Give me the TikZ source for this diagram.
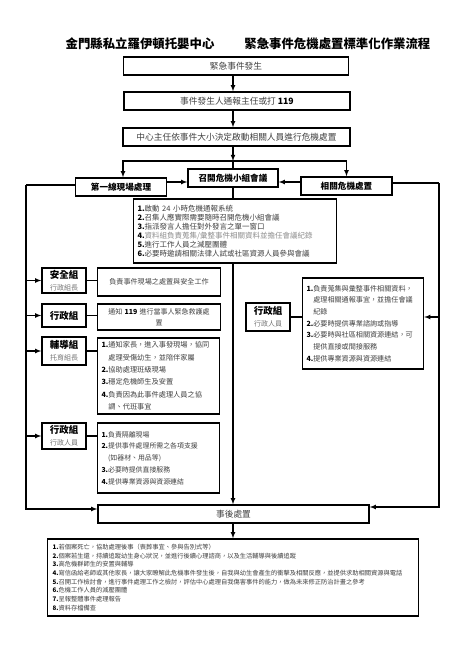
\documentclass[tikz,border=0pt]{standalone}
\usepackage{fontspec}
\setmainfont{Noto Sans CJK TC}
\tikzset{
box/.style={rectangle,draw,line width=1.4pt,inner sep=0pt,text=black!75,font=\fontsize{8.7}{10}\selectfont,minimum height=18pt},
headbox/.style={box,text=black,font=\bfseries\fontsize{8.6}{10}\selectfont},
groupbox/.style={rectangle,draw,line width=1.4pt,inner xsep=1pt,inner ysep=1.5pt,align=center,minimum width=44pt},
infobox/.style={rectangle,draw,line width=1.4pt,inner xsep=4pt,inner ysep=1pt,align=left,text=black!75},
link/.style={line width=1.1pt},
flow/.style={->,>=latex,line width=1.1pt,shorten >=0pt},
}
\newcommand\itemno[1]{{\color{black}\bfseries #1.}}
\newcommand\grouplabel[2]{{\bfseries\fontsize{9.5}{11}\selectfont #1}\\{\color{black!55}\fontsize{7}{8}\selectfont #2}}
\newcommand\cont{\phantom{\bfseries 1.}}
\begin{document}
\begin{tikzpicture}[x=1pt,y=-1pt]
\useasboundingbox (0,0) rectangle (474,670);

\draw(248,44) node[font=\bfseries\fontsize{12.4}{14}\selectfont](0){金門縣私立羅伊頓托嬰中心\hspace{30pt}緊急事件危機處置標準化作業流程};

\draw(236,66) node[box,minimum width=225pt](1){緊急事件發生};

\draw(237,101) node[box,minimum width=226pt](2){事件發生人通報主任或打 {\color{black}\bfseries 119}};

\draw(236.5,137) node[box,minimum width=227pt](3){中心主任依事件大小決定啟動相關人員進行危機處置};

\draw(233,178) node[headbox,minimum width=90pt](4){召開危機小組會議};

\draw(121,187) node[headbox,minimum width=91pt](5){第一線現場處理};

\draw(346.5,186) node[headbox,minimum width=91pt](6){相關危機處置};

\draw(235,231) node[infobox,text width=195pt,minimum height=64pt,font=\fontsize{7.5}{9}\selectfont](17){
\itemno{1}啟動 24 小時危機通報系統\\
\itemno{2}召集人應實際需要隨時召開危機小組會議\\
\itemno{3}指派發言人擔任對外發言之單一窗口\\
{\color{black!45}\itemno{4}資料組負責蒐集/彙整事件相關資料並擔任會議紀錄}\\
\itemno{5}進行工作人員之減壓團體\\
\itemno{6}必要時邀請相關法律人試或社區資源人員參與會議
};

\draw(64,280.5) node[groupbox,minimum height=25pt](7){\grouplabel{安全組}{行政組長}};

\draw(159,282) node[infobox,align=center,text width=115pt,minimum height=28pt,font=\fontsize{7.1}{12}\selectfont](8){負責事件現場之處置與安全工作};

\draw(64,315.5) node[groupbox,minimum height=23pt,font=\bfseries\fontsize{9.5}{11}\selectfont](9){行政組};

\draw(159,317) node[infobox,align=center,text width=115pt,minimum height=26pt,font=\fontsize{7}{11}\selectfont](10){通知 {\color{black}\bfseries 119} 進行當事人緊急救護處\\置};

\draw(64,351) node[groupbox,minimum height=28pt](11){\grouplabel{輔導組}{托育組長}};

\draw(158.5,376) node[infobox,text width=114pt,minimum height=76pt,font=\fontsize{7.2}{12.4}\selectfont](12){
\itemno{1}通知家長，進入事發現場，協同\\
\cont 處理受傷幼生，並陪伴家屬\\
\itemno{2}協助處理班級現場\\
\itemno{3}穩定危機師生及安置\\
\itemno{4}負責因為此事件處理人員之協\\
\cont 調、代班事宜
};

\draw(64,436) node[groupbox,minimum height=26pt](13){\grouplabel{行政組}{行政人員}};

\draw(158.5,458) node[infobox,text width=114pt,minimum height=70pt,font=\fontsize{6.9}{11.7}\selectfont](14){
\itemno{1}負責隔離現場\\
\itemno{2}提供事件處理所需之各項支援\\
\cont(如器材、用品等)\\
\itemno{3}必要時提供直接服務\\
\itemno{4}提供專業資源與資源連結
};

\draw(268,317) node[groupbox,minimum height=28pt](15){\grouplabel{行政組}{行政人員}};

\draw(363,323.5) node[infobox,text width=113pt,minimum height=91pt,font=\fontsize{7.1}{11.7}\selectfont](16){
\itemno{1}負責蒐集與彙整事件相關資料，\\
\cont 處理相關通報事宜，並擔任會議\\
\cont 紀錄\\
\itemno{2}必要時提供專業諮詢或指導\\
\itemno{3}必要時與社區相關資源連結，可\\
\cont 提供直接或間接服務\\
\itemno{4}提供專業資源與資源連結
};

\draw(233.5,514) node[box,minimum width=271pt](18){事後處置};

\draw(233,577.5) node[infobox,inner xsep=5pt,text width=361pt,minimum height=77pt,font=\fontsize{6.25}{8.7}\selectfont](19){
\itemno{1}若個案死亡，協助處理後事（喪葬事宜、參與告別式等）\\
\itemno{2}個案若生還，持續追蹤幼生身心狀況，並進行後續心理諮商，以及生活輔導與後續追蹤\\
\itemno{3}高危機群師生的安置與輔導\\
\itemno{4}寫信函給老師或其他家長，讓大家瞭解此危機事件發生後，自我與幼生會產生的衝擊及相關反應，並提供求助相關資源與電話\\
\itemno{5}召開工作檢討會，進行事件處理工作之檢討，評估中心處理自我傷害事件的能力，做為未來修正防治計畫之參考\\
\itemno{6}危機工作人員的減壓團體\\
\itemno{7}呈報整體事件處理報告\\
\itemno{8}資料存檔備查
};

\coordinate (split) at (233,161);
\coordinate (leftrail) at (26,185);
\coordinate (rightrail) at (439,183);

\draw [flow] (1.south -| 4.north) -- (2.north -| 4.north);
\draw [flow] (2.south -| 4.north) -- (3.north -| 4.north);
\draw [flow] (3.south -| 4.north) -- (split);
\draw [link] (split) -- (4.north);
\draw [flow] (split) -| ([xshift=2pt]5.north);
\draw [flow] (split) -| (6.north);
\draw [flow] ([yshift=5pt]5.east) -- ([yshift=5pt]5.east -| 4.west);
\draw [flow] ([yshift=4pt]6.west) -- ([yshift=4pt]6.west -| 4.east);
\draw [link] (4.south) -- (4.south |- 17.north);
\draw [link] ([yshift=2pt]5.west) -- (leftrail);
\draw [flow] (leftrail) |- ([yshift=5pt]18.west);
\draw [flow] (leftrail |- 7.west) -- (7.west);
\draw [flow] (leftrail |- 9.west) -- (9.west);
\draw [flow] (leftrail |- 11.west) -- (11.west);
\draw [flow] (leftrail |- 13.west) -- (13.west);
\draw [link] (7.east) -- (7.east -| 8.west);
\draw [link] (9.east) -- (9.east -| 10.west);
\draw [link] (11.east) -- (11.east -| 12.west);
\draw [link] (13.east) -- (13.east -| 14.west);
\draw [link] ([yshift=3pt]6.east) -- (rightrail);
\draw [flow] (rightrail) |- ([yshift=7pt]18.east);
\draw [flow] (rightrail |- 15.east) -- (15.east -| 16.east);
\draw [link] (15.east) -- (15.east -| 16.west);
\draw [flow] (4.south |- 17.south) -- (4.south |- 18.north);
\draw [flow] (4.south |- 18.south) -- (4.south |- 19.north);

\end{tikzpicture}
\end{document}
